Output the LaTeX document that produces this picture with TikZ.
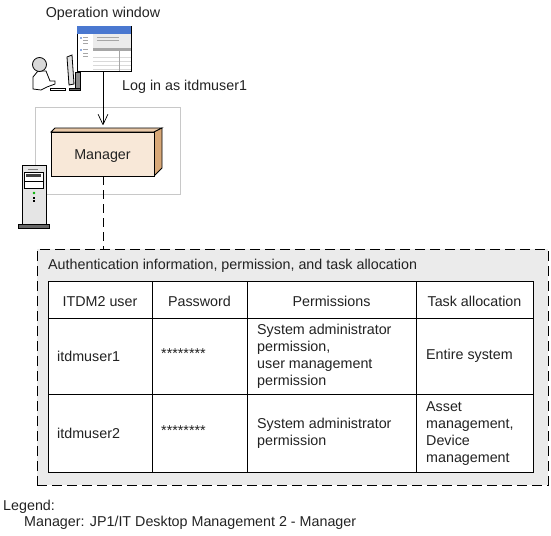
\documentclass[tikz,border=0pt]{standalone}
\usepackage{fontspec}
\setmainfont{Liberation Sans}
\usepackage{tikz}
\usetikzlibrary{arrows.meta, positioning, calc, fit}
\definecolor{framegray}{HTML}{C8C8C8}
\definecolor{panelgray}{HTML}{EBEBEB}
\definecolor{boxfront}{HTML}{F8E8D8}
\definecolor{boxtop}{HTML}{E8C8A8}
\definecolor{boxside}{HTML}{D8A878}
\definecolor{titleblue}{HTML}{4A78D0}
\definecolor{textgray}{HTML}{222222}

\begin{document}
\begin{tikzpicture}[
  x=1pt, y=-1pt,
  every node/.style={font=\fontsize{14.3}{17}\selectfont\color{textgray}},
  label/.style={inner sep=0pt, anchor=west, align=left},
  cell/.style={inner sep=0pt, align=left, anchor=west},
  headcell/.style={inner sep=0pt, align=center},
  grid/.style={draw=black, line width=0.9pt},
  arrow/.style={-{Straight Barb[length=3.6mm, width=3.4mm, round]}, black, line width=0.7pt},
  link/.style={black, line width=0.8pt, dash pattern=on 9pt off 5pt},
  outline/.style={draw=black, line width=0.8pt},
  winline/.style={draw=gray!70, line width=0.6pt}
]
  \useasboundingbox (0,0) rectangle (551,535);

  % operator and monitor
  \draw[outline, fill=white] (33,89) -- (33,77) -- (38,71) -- (46,71) -- (50,81) -- (55,81) -- (55,84) -- (47,87) -- (41,90) -- cycle;
  \draw[outline, fill=black!15] (39.5,64.5) circle (7);
  \draw[outline, fill=white] (50,88) rectangle (65,90);
  \draw[outline, fill=black!45] (75,72) rectangle (80,89);
  \draw[outline, fill=black!60] (69,88) rectangle (80,90.5);
  \draw[outline, fill=black!12] (67,57) -- (72,55) -- (74,84) -- (69,85) -- cycle;

  % operation window
  \node[label, anchor=south] (opwin) at (103,21) {Operation window};
  \node[draw=black, line width=0.8pt, fill=white, minimum width=54pt, minimum height=45pt, inner sep=0pt] (window) at (104,48.5) {};
  \fill[titleblue] (77,26) rectangle (131,34);
  \fill[panelgray] (93,34) rectangle (131,48);
  \fill[gray!70] (93,48) rectangle (131,51);
  \foreach \y in {57,61,65,69} \draw[winline, gray!30] (93,\y) -- (131,\y);
  \draw[winline] (119,51) -- (119,71);
  \foreach \y in {37,40,43,49,53,56} \draw[winline] (83,\y) -- (88,\y);
  \foreach \y in {37,49} \fill[titleblue!60] (80,\y) rectangle (82,\y+2);
  \foreach \y in {37,40} \draw[winline] (97,\y) -- (119,\y);

  % server frame, manager box
  \node[draw=framegray, line width=1pt, minimum width=145pt, minimum height=87pt, inner sep=0pt] (frame) at (107.5,150.5) {};
  \draw[outline, fill=boxtop] (51,132) -- (55,128) -- (162,128) -- (154,132) -- cycle;
  \draw[outline, fill=boxside] (154,132) -- (162,128) -- (162,168) -- (154,176) -- cycle;
  \node[draw=black, line width=0.9pt, fill=boxfront, minimum width=103pt, minimum height=44pt, inner sep=0pt, text height=10pt, text depth=0pt] (manager) at (102.5,154) {Manager};

  % server
  \node[draw=black, line width=0.7pt, fill=black!10, minimum width=24pt, minimum height=59pt, inner sep=0pt] (server) at (34,194.5) {};
  \node[draw=black, fill=black!60, line width=0.5pt, minimum width=31pt, minimum height=4pt, inner sep=0pt, below=0pt of server] (serverbase) {};
  \draw[outline, fill=white] (24,172) rectangle (43,188);
  \draw[black, line width=0.5pt] (24,181) -- (43,181);
  \fill[black!75] (26,174) rectangle (41,177);
  \draw[gray, line width=0.5pt] (28,169) -- (38,169);
  \fill[green!70!black] (34,193) circle (1.3);
  \foreach \y in {197,200} \fill[black] (33,\y) rectangle (35,\y+1.5);

  % connectors
  \draw[arrow] (window.south -| 103,0) -- (103,125) coordinate (mgrin);
  \node[label] (login) at (122,87) {Log in as itdmuser1};
  \node[draw=black, line width=0.8pt, dash pattern=on 10pt off 5pt, fill=panelgray, minimum width=511pt, minimum height=236pt, inner sep=0pt] (panel) at (292.5,367) {};
  \draw[link] (manager.south -| 103,0) -- (panel.north -| 103,0);

  % table
  \node[label] (authtitle) at (48,266) {Authentication information, permission, and task allocation};
  \node[fill=white, minimum width=485pt, minimum height=191pt, inner sep=0pt] (tablebg) at (290.5,376.5) {};
  \draw[grid] (48,281) rectangle (533,472);
  \foreach \y in {318,394} \draw[grid] (48,\y) -- (533,\y);
  \foreach \x in {152,247,416} \draw[grid] (\x,281) -- (\x,472);

  \node[headcell] (headuser) at (100,301.5) {ITDM2 user};
  \node[headcell] (headpass) at (199.5,301.5) {Password};
  \node[headcell] (headperm) at (331.5,301.5) {Permissions};
  \node[headcell] (headtask) at (474.5,301.5) {Task allocation};

  \node[cell] (user1) at (57,356) {itdmuser1};
  \node[cell] (pass1) at (161,354) {********};
  \node[cell] (perm1) at (257,356.5) {System administrator\\permission,\\user management\\permission};
  \node[cell] (task1) at (426,356) {Entire system};

  \node[cell] (user2) at (57,433) {itdmuser2};
  \node[cell] (pass2) at (161,431) {********};
  \node[cell] (perm2) at (257,433) {System administrator\\permission};
  \node[cell] (task2) at (426,433.5) {Asset\\management,\\Device\\management};

  % legend
  \node[label] (legendhead) at (3,507) {Legend:};
  \node[label] (legendtext) at (24,523) {Manager: JP1/IT Desktop Management 2 - Manager};
\end{tikzpicture}
\end{document}
